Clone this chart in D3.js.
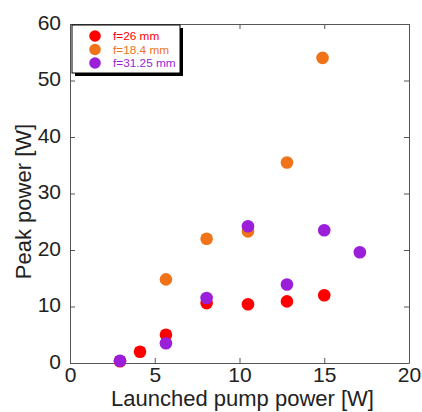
<!DOCTYPE html>
<html>
<head>
<meta charset="utf-8">
<script src="https://cdn.jsdelivr.net/npm/d3@7"></script>
<style>
  body { margin: 0; background: #fff; }
  text { font-family: Arial, "Liberation Sans", sans-serif; }
</style>
</head>
<body>
<div id="chart"></div>
<script>
// data
var seriesNames = ["f=26 mm", "f=18.4 mm", "f=31.25 mm"];
var seriesColors = ["#ff0000", "#f0731a", "#9b1fd8"];
var red = [[2.95, 0.3], [4.13, 2.0], [5.66, 5.0], [8.06, 10.6], [10.5, 10.4], [12.8, 10.9], [15.0, 12.0]];
var orange = [[5.66, 14.8], [8.06, 22.0], [10.5, 23.3], [12.8, 35.5], [14.9, 54.0]];
var purple = [[2.95, 0.4], [5.66, 3.5], [8.06, 11.5], [10.5, 24.2], [12.8, 13.9], [15.0, 23.5], [17.1, 19.6]];
var xTicks = [0, 5, 10, 15, 20];
var yTicks = [0, 10, 20, 30, 40, 50, 60];

var margin = {top: 24, right: 13, bottom: 49, left: 70},
    width = 422 - margin.left - margin.right,
    height = 412 - margin.top - margin.bottom;

var svg = d3.select("#chart")
    .append("svg")
    .attr("width", 422)
    .attr("height", 412)
    .append("g")
    .attr("transform", "translate(" + margin.left + "," + margin.top + ")");

var x = d3.scaleLinear().domain([0, 20]).range([0, width]);
var y = d3.scaleLinear().domain([0, 60]).range([height, 0]);

// frame with inward ticks on all sides
function styleAxis(g) {
    g.selectAll(".domain").attr("stroke", "#555");
    g.selectAll(".tick line").attr("stroke", "#555");
    g.selectAll("text").style("font-size", "21px").attr("fill", "#222");
}
svg.append("g")
    .attr("transform", "translate(0," + height + ")")
    .call(d3.axisBottom(x).tickValues(xTicks).tickSizeInner(-5).tickSizeOuter(0).tickPadding(4))
    .call(styleAxis);
svg.append("g")
    .call(d3.axisLeft(y).tickValues(yTicks).tickSizeInner(-5).tickSizeOuter(0).tickPadding(9))
    .call(styleAxis)
    .selectAll("text").attr("dy", "0.25em");
svg.append("g")
    .call(d3.axisTop(x).tickValues(xTicks).tickSizeInner(-5).tickSizeOuter(0).tickFormat(""))
    .call(styleAxis);
svg.append("g")
    .attr("transform", "translate(" + width + ",0)")
    .call(d3.axisRight(y).tickValues(yTicks).tickSizeInner(-5).tickSizeOuter(0).tickFormat(""))
    .call(styleAxis);

// axis titles
svg.append("text")
    .attr("text-anchor", "middle")
    .attr("x", width / 2 + 3)
    .attr("y", height + 43)
    .style("font-size", "22px")
    .attr("fill", "#222")
    .text("Launched pump power [W]");
svg.append("text")
    .attr("text-anchor", "middle")
    .attr("transform", "rotate(-90)")
    .attr("x", -height / 2 - 8)
    .attr("y", -margin.left + 31)
    .style("font-size", "22px")
    .attr("fill", "#222")
    .text("Peak power [W]");

// points
[red, orange, purple].forEach(function(data, i) {
    svg.append("g")
        .selectAll("circle")
        .data(data)
        .enter()
        .append("circle")
        .attr("cx", function(d) { return x(d[0]); })
        .attr("cy", function(d) { return y(d[1]); })
        .attr("r", 6.3)
        .style("fill", seriesColors[i]);
});

// legend
var lg = svg.append("g").attr("transform", "translate(2,1)");
lg.append("rect").attr("x", 3).attr("y", 3).attr("width", 108).attr("height", 48).attr("fill", "#000");
lg.append("rect").attr("x", 0).attr("y", 0).attr("width", 108).attr("height", 48)
    .attr("fill", "#fff").attr("stroke", "#000").attr("stroke-width", 1);
seriesNames.forEach(function(name, i) {
    lg.append("circle").attr("cx", 23).attr("cy", 11 + i * 13.5).attr("r", 5.8).style("fill", seriesColors[i]);
    lg.append("text").attr("x", 41).attr("y", 11 + i * 13.5).attr("dy", "0.35em")
        .style("font-size", "11.8px").attr("fill", seriesColors[i]).text(name);
});
</script>
</body>
</html>
